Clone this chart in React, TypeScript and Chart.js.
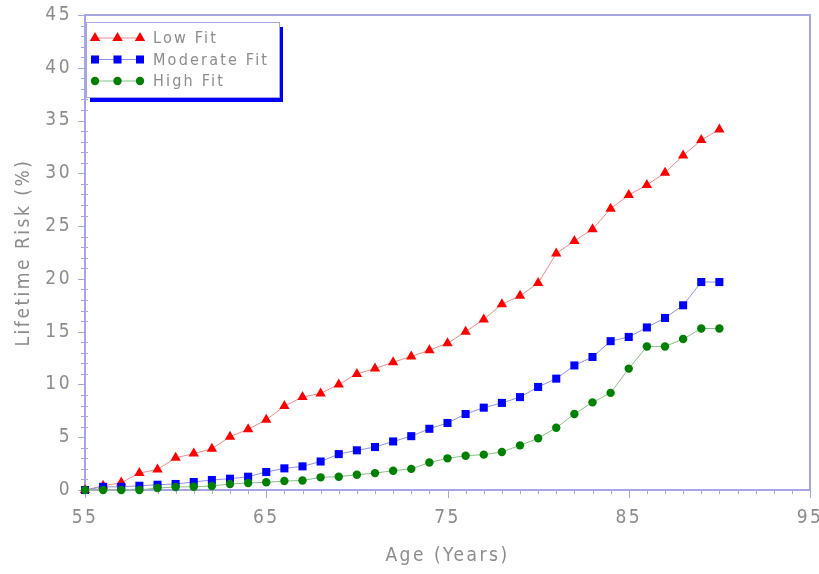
import React, { useEffect, useRef } from "react";
import { Chart, registerables } from "chart.js";

Chart.register(...registerables);

const ages = [55,56,57,58,59,60,61,62,63,64,65,66,67,68,69,70,71,72,73,74,75,76,77,78,79,80,81,82,83,84,85,86,87,88,89,90];
const lowFit = [0,0.4,0.7,1.6,1.95,3.05,3.45,3.9,5.05,5.75,6.65,7.95,8.8,9.15,10.0,11.0,11.5,12.1,12.65,13.25,13.9,15.0,16.15,17.6,18.4,19.6,22.4,23.6,24.7,26.65,27.95,28.9,30.05,31.7,33.15,34.15];
const moderateFit = [0,0.3,0.3,0.4,0.5,0.57,0.76,0.95,1.07,1.26,1.7,2.05,2.24,2.7,3.4,3.76,4.07,4.6,5.1,5.8,6.35,7.2,7.8,8.25,8.8,9.76,10.55,11.8,12.6,14.1,14.5,15.4,16.3,17.5,19.7,19.7];
const highFit = [0,0,0,0,0.19,0.28,0.31,0.38,0.57,0.66,0.73,0.85,0.9,1.2,1.26,1.45,1.6,1.83,2.0,2.6,3.0,3.25,3.35,3.6,4.23,4.9,5.9,7.2,8.3,9.2,11.5,13.6,13.6,14.3,15.3,15.3];
const seriesNames = ["Low Fit", "Moderate Fit", "High Fit"];
const xTitle = "Age (Years)";
const yTitle = "Lifetime Risk (%)";

const FONT = '"Liberation Sans Narrow", "DejaVu Sans Condensed", "Liberation Sans", sans-serif';
const TEXT = "#8c8c8c";
const AXIS = "#a6a6e6";

const spacingPlugin = {
  id: "spacing",
  beforeUpdate(chart: any) { chart.ctx.letterSpacing = "2.5px"; },
  beforeLayout(chart: any) { chart.ctx.letterSpacing = "2.5px"; },
  beforeDraw(chart: any) { chart.ctx.letterSpacing = "2.5px"; },
};

const frameTicksPlugin = {
  id: "frameTicks",
  beforeDatasetsDraw(chart: any) {
    const { ctx, chartArea, scales } = chart;
    const xs = scales.x, ys = scales.y;
    ctx.save();
    ctx.strokeStyle = AXIS;
    ctx.lineWidth = 1;
    for (let v = xs.min; v <= xs.max; v++) {
      const px = Math.round(xs.getPixelForValue(v)) + 0.5;
      const len = (v - 55) % 10 === 0 ? 8 : 4;
      ctx.beginPath();
      ctx.moveTo(px, chartArea.bottom);
      ctx.lineTo(px, chartArea.bottom + len);
      ctx.stroke();
    }
    for (let v = ys.min; v <= ys.max; v++) {
      const py = Math.round(ys.getPixelForValue(v)) + 0.5;
      const len = v % 5 === 0 ? 7 : 4;
      ctx.beginPath();
      ctx.moveTo(chartArea.left - len, py);
      ctx.lineTo(chartArea.left + (v % 5 === 0 ? 0 : 3), py);
      ctx.stroke();
    }
    ctx.lineWidth = 2;
    ctx.strokeRect(chartArea.left, chartArea.top, chartArea.right - chartArea.left, chartArea.bottom - chartArea.top);
    ctx.restore();
  },
};

function drawMarker(ctx: any, style: string, x: number, y: number, r: number, color: string) {
  ctx.fillStyle = color;
  ctx.beginPath();
  if (style === "triangle") {
    ctx.moveTo(x, y - r);
    ctx.lineTo(x + r * 0.866, y + r * 0.5);
    ctx.lineTo(x - r * 0.866, y + r * 0.5);
    ctx.closePath();
  } else if (style === "rect") {
    const s = r * Math.SQRT1_2;
    ctx.rect(x - s, y - s, 2 * s, 2 * s);
  } else {
    ctx.arc(x, y, r, 0, Math.PI * 2);
  }
  ctx.fill();
}

const legendPlugin = {
  id: "boxLegend",
  afterDraw(chart: any) {
    const { ctx, chartArea } = chart;
    const left = chartArea.left + 1;
    const top = chartArea.top + 7;
    const w = 193, h = 75;
    ctx.save();
    ctx.fillStyle = "#0000ff";
    ctx.fillRect(left + 4, top + 5, w, h);
    ctx.fillStyle = "#ffffff";
    ctx.fillRect(left, top, w, h);
    ctx.strokeStyle = AXIS;
    ctx.lineWidth = 1;
    ctx.strokeRect(left + 0.5, top + 0.5, w, h);
    chart.data.datasets.forEach((ds: any, i: number) => {
      const y = top + 16 + i * 21.5;
      const x0 = left + 9, x1 = left + 54;
      ctx.strokeStyle = ds.borderColor;
      ctx.lineWidth = 1;
      ctx.beginPath();
      ctx.moveTo(x0, y);
      ctx.lineTo(x1, y);
      ctx.stroke();
      [x0, (x0 + x1) / 2, x1].forEach((mx) => drawMarker(ctx, ds.pointStyle, mx, y, ds.pointRadius, ds.pointBackgroundColor));
      ctx.letterSpacing = "2.2px";
      ctx.font = `16px ${FONT}`;
      ctx.fillStyle = TEXT;
      ctx.textBaseline = "middle";
      ctx.textAlign = "left";
      ctx.fillText(ds.label, left + 67, y + 1);
    });
    ctx.restore();
  },
};

export default function App() {
  const ref = useRef<HTMLCanvasElement>(null);
  useEffect(() => {
    document.body.style.margin = "0";
    const mk = (vals: number[]) => ages.map((a, i) => ({ x: a, y: vals[i] }));
    const chart = new Chart(ref.current!, {
      type: "line",
      data: {
        datasets: [
          { label: seriesNames[0], data: mk(lowFit), borderColor: "#f08a8a", borderWidth: 1, pointStyle: "triangle", pointRadius: 6, pointBackgroundColor: "#ff0000", pointBorderWidth: 0, pointBorderColor: "#ff0000", order: 3, clip: false } as any,
          { label: seriesNames[1], data: mk(moderateFit), borderColor: "#9090ee", borderWidth: 1, pointStyle: "rect", pointRadius: 5.7, pointBackgroundColor: "#0000ff", pointBorderWidth: 0, pointBorderColor: "#0000ff", order: 2, clip: false } as any,
          { label: seriesNames[2], data: mk(highFit), borderColor: "#88c088", borderWidth: 1, pointStyle: "circle", pointRadius: 4.2, pointBackgroundColor: "#008000", pointBorderWidth: 0, pointBorderColor: "#008000", order: 1, clip: false } as any,
        ],
      },
      options: {
        animation: false,
        responsive: true,
        maintainAspectRatio: false,
        layout: { padding: { top: 15, right: 9, left: 0, bottom: 0 } },
        plugins: { legend: { display: false }, tooltip: { enabled: false } },
        scales: {
          x: {
            type: "linear",
            min: 55,
            max: 95,
            afterFit: (s: any) => { s.height = 84; s.paddingLeft = 0; s.paddingRight = 0; },
            ticks: { stepSize: 10, padding: 17, color: TEXT, font: { family: FONT, size: 19 }, maxRotation: 0 },
            grid: { display: true, drawOnChartArea: false, drawTicks: false },
            border: { display: false },
            title: { display: true, text: xTitle, color: TEXT, font: { family: FONT, size: 19 }, padding: { top: 0, bottom: 7 } },
          },
          y: {
            type: "linear",
            min: 0,
            max: 45,
            afterFit: (s: any) => { s.width = 85; s.paddingTop = 0; s.paddingBottom = 0; },
            ticks: { stepSize: 5, padding: 13, color: TEXT, font: { family: FONT, size: 19 } },
            grid: { display: true, drawOnChartArea: false, drawTicks: false },
            border: { display: false },
            title: { display: true, text: yTitle, color: TEXT, font: { family: FONT, size: 19 }, padding: { top: 13, bottom: 0 } },
          },
        },
      },
      plugins: [spacingPlugin, frameTicksPlugin, legendPlugin],
    });
    return () => chart.destroy();
  }, []);
  return (
    <div style={{ position: "fixed", left: 0, top: 0, width: 819, height: 574, background: "#fff" }}>
      <canvas ref={ref} />
    </div>
  );
}
